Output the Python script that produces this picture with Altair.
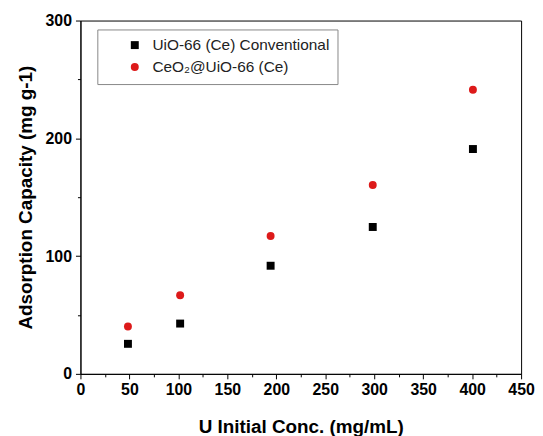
import altair as alt
import pandas as pd

conc = [48.5, 101.8, 194.2, 298.5, 400.8]
uio_conventional = [25.5, 42.7, 91.8, 124.7, 190.9]
ceo2_uio = [40.2, 66.8, 117.1, 160.3, 241.2]
series_names = ["UiO-66 (Ce) Conventional", "CeO\u2082@UiO-66 (Ce)"]
series_colors = ["#000000", "#dd1a1a"]
series_shapes = ["square", "circle"]
x_ticks = list(range(0, 451, 25))
y_ticks = list(range(0, 301, 50))

rows = []
for x, a, b in zip(conc, uio_conventional, ceo2_uio):
    rows.append({"conc": x, "cap": a, "series": series_names[0]})
    rows.append({"conc": x, "cap": b, "series": series_names[1]})
df = pd.DataFrame(rows)

FONT = "Liberation Sans"

chart = alt.Chart(df).mark_point(filled=True, opacity=1, size=64).encode(
    x=alt.X("conc:Q", scale=alt.Scale(domain=[0, 450], nice=False, zero=False),
            axis=alt.Axis(values=x_ticks, title="U Initial Conc. (mg/mL)", labelFlush=False,
                          labelExpr="datum.value % 50 === 0 ? datum.label : ''",
                          tickSize={"condition": {"test": "datum.value % 50 === 0", "value": 5}, "value": 3},
                          titlePadding=20)),
    y=alt.Y("cap:Q", scale=alt.Scale(domain=[0, 300], nice=False),
            axis=alt.Axis(values=y_ticks, title="Adsorption Capacity (mg g-1)", labelFlush=False,
                          labelExpr="datum.value % 100 === 0 ? datum.label : ''",
                          tickSize={"condition": {"test": "datum.value % 100 === 0", "value": 5}, "value": 3},
                          labelPadding=4, titlePadding=10)),
    color=alt.Color("series:N", scale=alt.Scale(domain=series_names, range=series_colors),
                    legend=alt.Legend(title=None, orient="none", legendX=17, legendY=9)),
    shape=alt.Shape("series:N", scale=alt.Scale(domain=series_names, range=series_shapes),
                    legend=alt.Legend(title=None, orient="none", legendX=17, legendY=9)),
).properties(
    width=444, height=356,
    padding={"top": 3, "left": 8, "right": 0, "bottom": 0},
).configure_view(
    stroke="#000000", strokeWidth=1
).configure_axis(
    grid=False, domainColor="#000000", domainWidth=1, tickColor="#000000", tickWidth=1,
    labelFont=FONT, labelFontSize=16, labelFontWeight="bold", labelColor="#000000", labelPadding=3,
    titleFont=FONT, titleFontSize=19, titleFontWeight="bold", titleColor="#000000",
).configure_legend(
    fillColor="#ffffff", strokeColor="#888888", padding=8, symbolOffset=22,
    labelFont=FONT, labelFontSize=15.5, labelColor="#222222", symbolSize=64,
    rowPadding=5, labelOffset=10, symbolStrokeWidth=0, labelLimit=400,
)

chart.save("out.html", embed_options={"renderer": "svg", "actions": False})
